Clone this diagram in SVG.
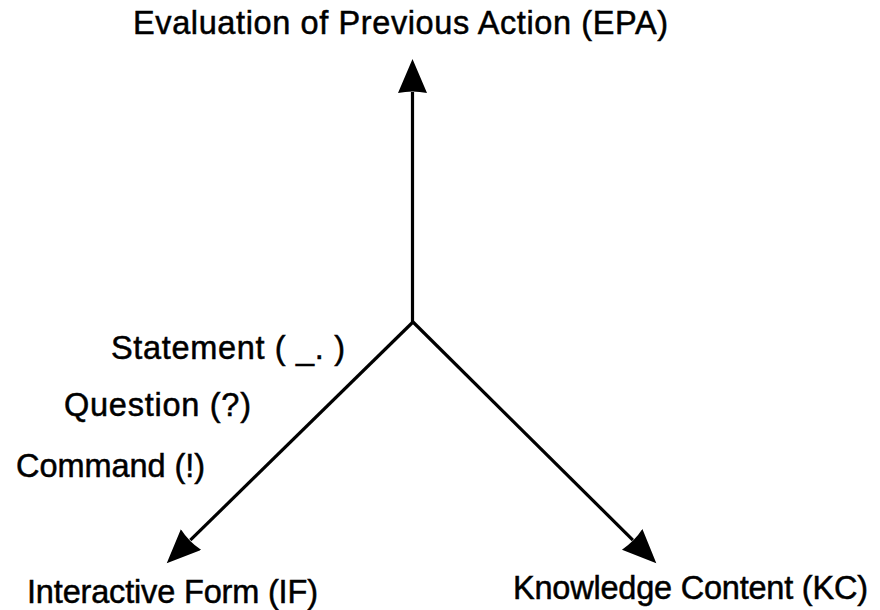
<svg xmlns="http://www.w3.org/2000/svg" width="880" height="610" viewBox="0 0 880 610">
<style>
text{font-family:"Liberation Sans",Arial,sans-serif;font-size:32.5px;fill:#000;stroke:#000;stroke-width:0.5}
.ax{stroke:#000;stroke-width:3.2;fill:none}
</style>
<defs>
<marker id="ah" markerUnits="userSpaceOnUse" markerWidth="36" markerHeight="30" refX="1" refY="14.5" orient="auto" viewBox="0 0 36 30">
<path d="M0,0 L34,14.5 L0,29 Q3,14.5 0,0 z" fill="#000"/>
</marker>
</defs>
<g id="connectors">
<line class="ax" x1="412.5" y1="322" x2="412.5" y2="92" marker-end="url(#ah)"/>
<line class="ax" x1="413" y1="322" x2="190.3" y2="540.2" marker-end="url(#ah)"/>
<line class="ax" x1="413" y1="322" x2="632.9" y2="540.1" marker-end="url(#ah)"/>
</g>
<g id="epa"><text x="133" y="34" textLength="535" lengthAdjust="spacing">Evaluation of Previous Action (EPA)</text></g>
<g id="statement"><text x="111" y="359" textLength="234" lengthAdjust="spacing">Statement ( _. )</text></g>
<g id="question"><text x="64" y="416" textLength="187" lengthAdjust="spacing">Question (?)</text></g>
<g id="command"><text x="16" y="477" textLength="189" lengthAdjust="spacing">Command (!)</text></g>
<g id="if"><text x="27" y="603" textLength="291" lengthAdjust="spacing">Interactive Form (IF)</text></g>
<g id="kc"><text x="513" y="599" textLength="355" lengthAdjust="spacing">Knowledge Content (KC)</text></g>
</svg>
